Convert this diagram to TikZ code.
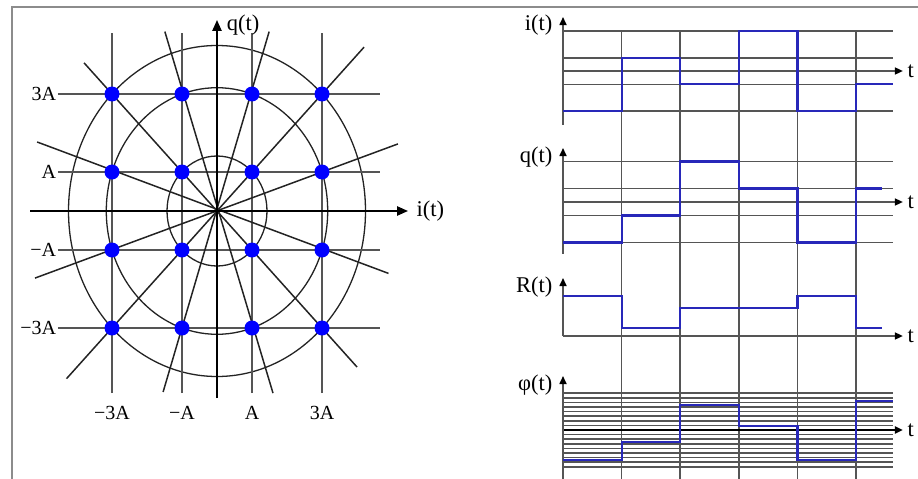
\documentclass[tikz,border=0pt]{standalone}
\usepackage{fontspec}
\setmainfont{Liberation Serif}
\usetikzlibrary{arrows.meta}
\definecolor{dotblue}{RGB}{0,0,255}
\definecolor{sigblue}{RGB}{40,40,185}
\definecolor{gridgray}{RGB}{85,85,85}
\definecolor{raygray}{RGB}{35,35,35}
\definecolor{framegray}{RGB}{140,140,140}

\begin{document}
\begin{tikzpicture}[
  x=1pt,y=-1pt,
  font=\fontsize{20}{23}\selectfont,
  frame/.style={framegray,line width=1.8pt},
  gridln/.style={gridgray,line width=1.6pt},
  ray/.style={raygray,line width=1.5pt},
  ring/.style={raygray,line width=1.3pt},
  bigaxis/.style={black,line width=2.2pt,-{Triangle[length=11pt,width=9pt]}},
  dot/.style={fill=dotblue},
  lbl/.style={inner sep=0.5pt},
  fnlbl/.style={lbl,font=\fontsize{22.5}{25}\selectfont},
  taxis/.style={gridgray,line width=1.6pt,-{Triangle[length=8pt,width=7pt,color=black]}},
  phaxis/.style={black,line width=2pt,-{Triangle[length=8pt,width=7pt]}},
  sig/.style={sigblue,line width=2.2pt}
]
\useasboundingbox (0,0) rectangle (918,479);
\draw[frame] (12,479) -- (12,7) -- (918,7);

\begin{scope}[shift={(217,211)},x=35pt,y=39pt]
  \draw[ring] (0,0) ellipse [x radius=50pt,y radius=55pt];
  \draw[ring] (0,0) ellipse [x radius=110.7pt,y radius=123.3pt];
  \draw[ring] (0,0) ellipse [x radius=148.5pt,y radius=165.5pt];
  \foreach \v in {-3,-1,1,3} {
    \draw[gridln] (-4.55,\v) -- (4.65,\v);
    \draw[gridln] (\v,-4.67) -- (\v,4.56);
  }
  \foreach \xa/\ya/\xb/\yb in {-4.3/-4.3/4.2/4.2, -3.8/3.8/4.0/-4.0,
      -5.2/-1.72/5.17/1.72, -5.14/1.77/4.9/-1.6,
      -1.54/-4.64/1.49/4.6, -1.49/4.6/1.6/-4.67}
    \draw[ray] (\xa,\ya) -- (\xb,\yb);
  \draw[bigaxis] (-5.34,0) -- (5.46,0);
  \draw[bigaxis] (0,-4.8) -- (0,4.9);
  \foreach \x in {-3,-1,1,3}
    \foreach \v in {-3,-1,1,3}
      \fill[dot] (\x,\v) circle [radius=7.5pt];
  \node[fnlbl,anchor=west] (iax) at (5.68,0) {i(t)};
  \node[fnlbl,anchor=west] (qax) at (0.26,4.77) {q(t)};
  \foreach \v/\t in {3/3A,1/A,-1/−A,-3/−3A} {
    \node[lbl,anchor=east] (l\v) at (-4.58,\v) {\t};
    \node[lbl] (b\v) at (\v,-5.18) {\t};
  }
\end{scope}

\foreach \k in {1,...,5}
  \draw[gridln] ({563+58.6*\k},31) -- ({563+58.6*\k},479);

\begin{scope}[shift={(563,71)},x=58.6pt,y=13.3pt]
  \foreach \v in {-3,-1,1,3} \draw[gridln] (0,\v) -- (5.63,\v);
  \draw[taxis] (0,0) -- (5.8,0);
  \draw[taxis] (0,-4.06) -- (0,4.06);
  \draw[sig] (0,-3) -- (1,-3) |- (2,1) |- (3,-1) |- (4,3) |- (5,-3) |- (5.63,-1);
  \node[fnlbl,anchor=west] (ti) at (5.87,0) {t};
  \node[fnlbl,anchor=east] (iLab) at (-0.17,3.46) {i(t)};
\end{scope}

\begin{scope}[shift={(563,202)},x=58.6pt,y=13.5pt]
  \foreach \v in {-3,-1,1,3} \draw[gridln] (0,\v) -- (5.63,\v);
  \draw[taxis] (0,0) -- (5.8,0);
  \draw[taxis] (0,-3.85) -- (0,4.0);
  \draw[sig] (0,-3) -- (1,-3) |- (2,-1) |- (3,3) |- (4,1) |- (5,-3) |- (5.44,1);
  \node[fnlbl,anchor=west] (tq) at (5.87,0) {t};
  \node[fnlbl,anchor=east] (qLab) at (-0.17,3.33) {q(t)};
\end{scope}

\begin{scope}[shift={(563,336)},x=58.6pt,y=1pt]
  \draw[taxis] (0,0) -- (5.8,0);
  \draw[taxis] (0,0) -- (0,58);
  \draw[sig] (0,40) -- (1,40) |- (2,8) |- (3,28) |- (4,28) |- (5,40) |- (5.44,8);
  \node[fnlbl,anchor=west] (tR) at (5.87,0) {t};
  \node[fnlbl,anchor=east] (RLab) at (-0.17,49) {R(t)};
\end{scope}

\begin{scope}[shift={(563,430)},x=58.6pt,y=1pt]
  \foreach \k in {1,...,8} {
    \draw[gridln] (0,{4.6*\k}) -- (5.63,{4.6*\k});
    \draw[gridln] (0,{-4.6*\k}) -- (5.63,{-4.6*\k});
  }
  \draw[phaxis] (0,0) -- (5.8,0);
  \draw[taxis] (0,-49) -- (0,54);
  \draw[sig] (0,-30) -- (1,-30) |- (2,-12) |- (3,25) |- (4,4) |- (5,-30) |- (5.63,29);
  \node[fnlbl,anchor=west] (tp) at (5.87,0) {t};
  \node[fnlbl,anchor=east] (pLab) at (-0.17,45) {φ(t)};
\end{scope}
\end{tikzpicture}
\end{document}
